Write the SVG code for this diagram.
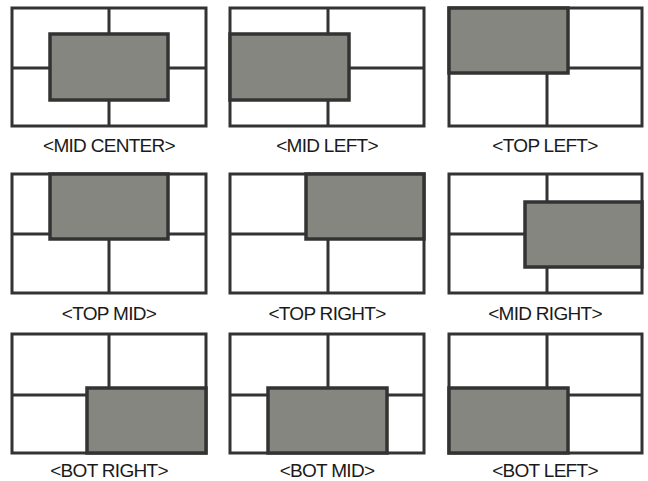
<svg xmlns="http://www.w3.org/2000/svg" width="648" height="481" viewBox="0 0 648 481">
  <style>
    .frame { fill: #ffffff; stroke: #333333; stroke-width: 3; }
    .div { stroke: #333333; stroke-width: 3; fill: none; }
    .pip { fill: #868680; stroke: #333333; stroke-width: 3.5; }
    .lbl { font-family: "Liberation Sans", Arial, sans-serif; font-size: 19px; letter-spacing: -0.7px; fill: #1a1a1a; text-anchor: middle; }
  </style>
  <rect width="648" height="481" fill="#ffffff"/>

  <!-- Row 1 -->
  <g id="mid-center">
    <rect class="frame" x="12" y="8" width="194" height="118"/>
    <path class="div" d="M109 8V126M12 68H206"/>
    <rect class="pip" x="50" y="34" width="118" height="66"/>
    <text class="lbl" x="109" y="152">&lt;MID CENTER&gt;</text>
  </g>
  <g id="mid-left">
    <rect class="frame" x="230" y="8" width="194" height="118"/>
    <path class="div" d="M328 8V126M230 68H424"/>
    <rect class="pip" x="230" y="34" width="119" height="66"/>
    <text class="lbl" x="327" y="152">&lt;MID LEFT&gt;</text>
  </g>
  <g id="top-left">
    <rect class="frame" x="449" y="8" width="193" height="118"/>
    <path class="div" d="M547 8V126M449 68H642"/>
    <rect class="pip" x="449" y="8" width="119" height="65"/>
    <text class="lbl" x="545" y="152">&lt;TOP LEFT&gt;</text>
  </g>

  <!-- Row 2 -->
  <g id="top-mid">
    <rect class="frame" x="12" y="174" width="194" height="119"/>
    <path class="div" d="M109 174V293M12 234H206"/>
    <rect class="pip" x="50" y="174" width="118" height="65"/>
    <text class="lbl" x="109" y="320">&lt;TOP MID&gt;</text>
  </g>
  <g id="top-right">
    <rect class="frame" x="230" y="174" width="194" height="119"/>
    <path class="div" d="M328 174V293M230 234H424"/>
    <rect class="pip" x="306" y="174" width="118" height="65"/>
    <text class="lbl" x="327" y="320">&lt;TOP RIGHT&gt;</text>
  </g>
  <g id="mid-right">
    <rect class="frame" x="449" y="174" width="193" height="119"/>
    <path class="div" d="M547 174V293M449 234H642"/>
    <rect class="pip" x="525" y="202" width="117" height="65"/>
    <text class="lbl" x="545" y="320">&lt;MID RIGHT&gt;</text>
  </g>

  <!-- Row 3 -->
  <g id="bot-right">
    <rect class="frame" x="12" y="334" width="194" height="119"/>
    <path class="div" d="M109 334V453M12 395H206"/>
    <rect class="pip" x="87" y="388" width="119" height="65"/>
    <text class="lbl" x="109" y="477">&lt;BOT RIGHT&gt;</text>
  </g>
  <g id="bot-mid">
    <rect class="frame" x="230" y="334" width="194" height="119"/>
    <path class="div" d="M328 334V453M230 395H424"/>
    <rect class="pip" x="268" y="388" width="119" height="65"/>
    <text class="lbl" x="327" y="477">&lt;BOT MID&gt;</text>
  </g>
  <g id="bot-left">
    <rect class="frame" x="449" y="334" width="193" height="119"/>
    <path class="div" d="M547 334V453M449 395H642"/>
    <rect class="pip" x="449" y="388" width="119" height="65"/>
    <text class="lbl" x="545" y="477">&lt;BOT LEFT&gt;</text>
  </g>
</svg>
